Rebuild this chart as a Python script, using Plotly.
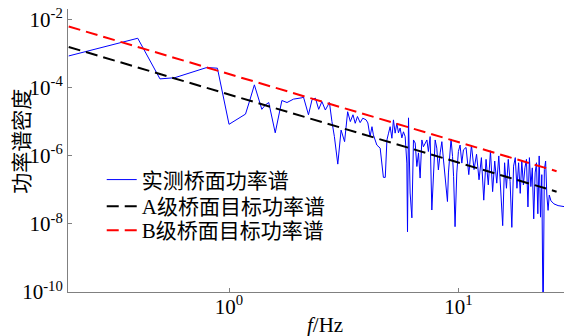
import plotly.graph_objects as go

freq_hz = [
    0.2, 0.4, 0.5, 0.58, 0.8, 0.89, 1.0, 1.18, 1.23, 1.29, 1.39, 1.44, 1.49, 1.59,
    1.70, 1.79, 1.91, 2.08, 2.11, 2.22, 2.30, 2.38, 2.46, 2.54, 2.63, 2.74, 2.81,
    2.88, 2.98, 3.08, 3.19, 3.29, 3.38, 3.47, 3.55, 3.63, 3.73, 3.83, 3.96, 4.03,
    4.12, 4.20, 4.26, 4.41, 4.56, 4.64, 4.71, 4.80, 4.88, 4.96, 5.04, 5.13, 5.21,
    5.30, 5.39, 5.48, 5.57, 5.67, 5.76, 5.86, 5.96, 6.00, 6.06, 6.16, 6.27, 6.37,
    6.48, 6.59, 6.70, 6.81, 6.93, 7.04, 7.16, 7.29, 7.40, 7.53, 7.66, 7.78, 7.92,
    8.05, 8.18, 8.33, 8.47, 8.61, 8.75, 8.96, 9.05, 9.29, 9.43, 9.53, 9.67, 9.84,
    10.0, 10.17, 10.35, 10.52, 10.8, 11.1, 11.4, 11.7, 12.0, 12.3, 12.6, 12.9,
    13.2, 13.5, 13.8, 14.1, 14.4, 14.7, 15.0, 15.3, 15.6, 15.9, 16.2, 16.5, 16.8,
    17.1, 17.4, 17.7, 18.0, 18.3, 18.6, 18.9, 19.2, 19.5, 19.8, 20.1, 20.4, 20.7,
    21.0, 21.3, 21.6, 21.9, 22.2, 22.5, 22.8, 23.1, 23.4, 23.7, 24.0, 24.3, 24.6,
    24.9, 25.33, 26.1, 27.2, 28.9,
]
psd_log10 = [
    -3.06, -2.54, -3.735, -3.70, -3.40, -3.42, -5.07, -4.77, -4.38, -3.91, -4.63,
    -4.50, -4.43, -5.32, -4.37, -4.43, -4.33, -4.29, -4.26, -4.79, -4.35, -4.30,
    -4.63, -4.40, -4.65, -4.43, -4.99, -5.43, -6.24, -5.24, -5.58, -4.70, -4.99,
    -4.79, -5.04, -4.84, -5.02, -4.89, -4.94, -5.03, -5.43, -5.14, -5.38, -5.68,
    -5.77, -6.31, -6.63, -6.63, -5.53, -5.33, -5.14, -5.48, -4.94, -5.33, -5.04,
    -5.32, -5.18, -5.47, -5.29, -5.43, -6.21, -8.23, -4.88, -7.09, -7.82, -5.53,
    -5.62, -6.31, -5.91, -6.65, -5.53, -5.73, -5.62, -5.53, -5.87, -5.43, -7.59,
    -6.71, -5.53, -5.77, -6.41, -5.91, -5.58, -6.12, -6.56, -7.34, -6.50, -5.50,
    -6.02, -6.61, -8.08, -6.50, -5.87, -5.68, -6.21, -5.82, -5.75, -6.55, -5.68,
    -6.40, -5.95, -6.70, -6.05, -7.30, -6.10, -6.85, -5.85, -7.05, -6.15, -6.80,
    -6.00, -6.90, -8.05, -6.20, -6.95, -6.10, -6.75, -8.10, -6.30, -6.05, -6.95,
    -6.20, -7.10, -6.15, -6.85, -6.35, -6.10, -7.50, -6.05, -6.90, -6.35, -7.85,
    -6.50, -6.20, -7.70, -6.00, -7.80, -6.55, -11.0, -6.40, -6.15, -7.15, -7.60,
    -7.15, -7.32, -7.41, -7.46, -7.49,
]
psd_measured = [10 ** v for v in psd_log10]

target_f = [0.2, 26.8]
psd_A = [1.6e-3, 8.9e-8]
psd_B = [6.4e-3, 3.56e-7]

names = ["实测桥面功率谱", "A级桥面目标功率谱", "B级桥面目标功率谱"]
y_tickvals = [1e-10, 1e-8, 1e-6, 1e-4, 1e-2]
y_ticktext = ["10<sup>-10</sup>", "10<sup>-8</sup>", "10<sup>-6</sup>",
              "10<sup>-4</sup>", "10<sup>-2</sup>"]
x_tickvals = [1, 10]
x_ticktext = ["10<sup>0</sup>", "10<sup>1</sup>"]

FONT = "'Liberation Serif', 'Noto Sans CJK SC', serif"

fig = go.Figure()
fig.add_trace(go.Scatter(x=freq_hz, y=psd_measured, mode="lines", name=names[0],
                         legend="legend",
                         line=dict(color="#0000ff", width=1)))
fig.add_trace(go.Scatter(x=target_f, y=psd_A, mode="lines", name=names[1],
                         legend="legend2",
                         line=dict(color="#000000", width=2, dash="12px,6px")))
fig.add_trace(go.Scatter(x=target_f, y=psd_B, mode="lines", name=names[2],
                         legend="legend3",
                         line=dict(color="#ff0000", width=2, dash="12px,6px")))

axis_common = dict(
    type="log", showgrid=False, zeroline=False, showline=True,
    linecolor="#808080", linewidth=1, ticks="inside", ticklen=4,
    tickcolor="#808080", tickfont=dict(family=FONT, size=21, color="black"),
    mirror=False, automargin=False, ticklabeloverflow="allow",
)
fig.update_xaxes(range=[-0.702, 1.4604], tickvals=x_tickvals, ticktext=x_ticktext,
                 ticklabelstandoff=-4, **axis_common)
fig.update_yaxes(range=[-10, -1.68], tickvals=y_tickvals, ticktext=y_ticktext,
                 **axis_common)

leg_common = dict(x=0.068, xanchor="left", yanchor="middle",
                  bgcolor="rgba(0,0,0,0)", borderwidth=0,
                  font=dict(family=FONT, size=21, color="black"))

fig.update_layout(
    width=564, height=336,
    margin=dict(l=68, r=0, t=9, b=44, pad=0, autoexpand=False),
    paper_bgcolor="white", plot_bgcolor="white",
    font=dict(family=FONT, size=20, color="black"),
    showlegend=True,
    legend=dict(y=0.396, **leg_common),
    legend2=dict(y=0.302, **leg_common),
    legend3=dict(y=0.217, **leg_common),
    annotations=[
        dict(text="<i>f</i>/Hz", xref="paper", yref="paper", x=0.518, y=-0.118,
             showarrow=False, xanchor="center", yanchor="middle",
             font=dict(family=FONT, size=21, color="black")),
        dict(text="功率谱密度", xref="paper", yref="paper", x=-0.093, y=0.534,
             showarrow=False, xanchor="center", yanchor="middle", textangle=-90,
             font=dict(family=FONT, size=21, color="black")),
    ],
)

# remove the browser's default 8 px body margin so the figure fills the window
fig.write_html(
    "out.html",
    config={"displayModeBar": False},
    post_script="document.body.style.margin='0';document.body.style.overflow='hidden';",
)
